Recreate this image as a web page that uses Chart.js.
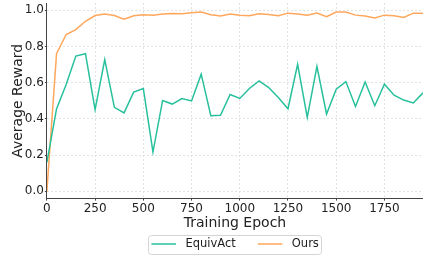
<!DOCTYPE html>
<html>
<head>
<meta charset="utf-8">
<script src="https://cdn.jsdelivr.net/npm/chart.js@4"></script>
<style>
  html, body { margin: 0; padding: 0; background: #fff; }
  #wrap { width: 423px; height: 255px; }
</style>
</head>
<body>
<div id="wrap"><canvas id="reward-chart"></canvas></div>
<script>
const epochs = [0, 50, 100, 150, 200, 250, 300, 350, 400, 450, 500, 550, 600, 650, 700, 750, 800, 850, 900, 950,
  1000, 1050, 1100, 1150, 1200, 1250, 1300, 1350, 1400, 1450, 1500, 1550, 1600, 1650, 1700, 1750, 1800, 1850, 1900, 1950];

const equivAct = [0.16, 0.455, 0.59, 0.747, 0.76, 0.451, 0.727, 0.464, 0.433, 0.548, 0.568, 0.217, 0.502, 0.482, 0.512, 0.499, 0.647, 0.418, 0.42, 0.535,
  0.513, 0.568, 0.61, 0.573, 0.518, 0.456, 0.701, 0.409, 0.69, 0.427, 0.564, 0.606, 0.469, 0.604, 0.473, 0.592, 0.531, 0.504, 0.488, 0.544];

const ours = [0.0, 0.76, 0.866, 0.893, 0.939, 0.971, 0.979, 0.971, 0.95, 0.97, 0.975, 0.972, 0.979, 0.982, 0.98, 0.986, 0.99, 0.975, 0.968, 0.979,
  0.973, 0.97, 0.981, 0.977, 0.97, 0.984, 0.979, 0.972, 0.984, 0.964, 0.99, 0.99, 0.973, 0.968, 0.957, 0.973, 0.97, 0.96, 0.984, 0.984];

const xTicks = [0, 250, 500, 750, 1000, 1250, 1500, 1750];
const yTicks = [0.0, 0.2, 0.4, 0.6, 0.8, 1.0];

const teal = '#27c09c';
const orange = '#ffa75c';
const font = "'DejaVu Sans', sans-serif";

// matplotlib-style framed legend under the x title
const bottomLegend = {
  id: 'bottomLegend',
  afterDraw(chart) {
    const ctx = chart.ctx;
    const ca = chart.chartArea;
    const cx = (ca.left + ca.right) / 2;
    const top = 235;
    const mid = 244;
    const frameW = 173;
    const x0 = cx - frameW / 2;
    ctx.save();
    ctx.strokeStyle = '#d4d4d4';
    ctx.lineWidth = 1;
    ctx.beginPath();
    ctx.roundRect(Math.round(x0) + 0.5, top + 0.5, frameW, 19, 3);
    ctx.stroke();

    ctx.font = '11.5px ' + font;
    ctx.textBaseline = 'middle';
    ctx.fillStyle = '#222';
    let x = x0 + 3;
    chart.data.datasets.forEach(ds => {
      ctx.strokeStyle = ds.borderColor;
      ctx.lineWidth = 1.5;
      ctx.beginPath();
      ctx.moveTo(x, mid);
      ctx.lineTo(x + 24.5, mid);
      ctx.stroke();
      ctx.fillText(ds.label, x + 34, mid);
      x += 34 + ctx.measureText(ds.label).width + 22;
    });
    ctx.restore();
  }
};

new Chart(document.getElementById('reward-chart'), {
  type: 'line',
  data: {
    datasets: [
      {
        label: 'EquivAct',
        data: epochs.map((e, i) => ({ x: e, y: equivAct[i] })),
        borderColor: teal,
        backgroundColor: teal,
        borderWidth: 1.5,
        pointRadius: 0,
        tension: 0
      },
      {
        label: 'Ours',
        data: epochs.map((e, i) => ({ x: e, y: ours[i] })),
        borderColor: orange,
        backgroundColor: orange,
        borderWidth: 1.5,
        pointRadius: 0,
        tension: 0
      }
    ]
  },
  options: {
    responsive: true,
    maintainAspectRatio: false,
    animation: false,
    layout: { padding: { left: 7, right: 0, top: 3, bottom: 25 } },
    plugins: {
      tooltip: { enabled: false },
      legend: { display: false }
    },
    scales: {
      x: {
        type: 'linear',
        min: 0,
        max: 1950,
        afterBuildTicks(axis) { axis.ticks = xTicks.map(v => ({ value: v })); },
        ticks: { color: '#222', font: { family: font, size: 12 }, padding: 1, maxRotation: 0, callback: v => String(v) },
        grid: { color: '#e2e2e2', tickColor: '#444', tickLength: 2 },
        border: { color: '#444', width: 1, dash: [2, 2] },
        title: { display: true, text: 'Training Epoch', color: '#222', font: { family: font, size: 14, lineHeight: 1 }, padding: { top: -1, bottom: 0 } }
      },
      y: {
        min: -0.04,
        max: 1.04,
        afterBuildTicks(axis) { axis.ticks = yTicks.map(v => ({ value: v })); },
        // top tick sits below the axis top, so no extra room is needed for its label
        afterFit(axis) { axis.paddingTop = 0; },
        ticks: { color: '#222', font: { family: font, size: 12 }, padding: 1, callback: v => v.toFixed(1) },
        grid: { color: '#e2e2e2', tickColor: '#444', tickLength: 2 },
        border: { color: '#444', width: 1, dash: [2, 2] },
        title: { display: true, text: 'Average Reward', color: '#222', font: { family: font, size: 14 }, padding: { top: 3, bottom: -3 } }
      }
    }
  },
  plugins: [bottomLegend]
});
</script>
</body>
</html>
